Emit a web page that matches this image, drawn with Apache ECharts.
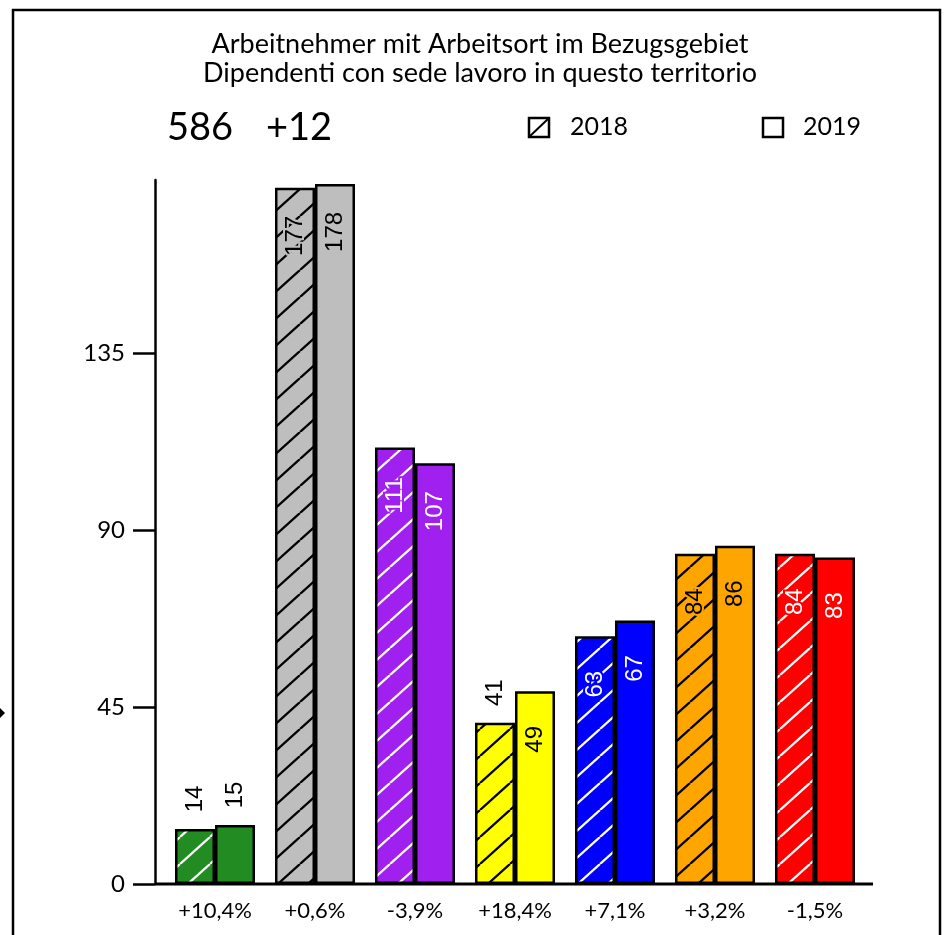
<!DOCTYPE html>
<html>
<head>
<meta charset="utf-8">
<script src="https://cdn.jsdelivr.net/npm/echarts@6/dist/echarts.min.js"></script>
<style>
html,body{margin:0;padding:0;background:#fff;}
#chart{width:945px;height:935px;}
</style>
</head>
<body>
<div id="chart"></div>
<script>
const categories = ['+10,4%', '+0,6%', '-3,9%', '+18,4%', '+7,1%', '+3,2%', '-1,5%'];
const values2018 = [14, 177, 111, 41, 63, 84, 84];
const values2019 = [15, 178, 107, 49, 67, 86, 83];
const barColors = ['#228B22', '#BEBEBE', '#A020F0', '#FFFF00', '#0000FF', '#FFA500', '#FF0000'];
const hatchColors = ['#FFFFFF', '#000000', '#FFFFFF', '#000000', '#FFFFFF', '#000000', '#FFFFFF'];
const labelColors = ['#000000', '#000000', '#FFFFFF', '#000000', '#FFFFFF', '#000000', '#FFFFFF'];
const yTickValues = [0, 45, 90, 135];
const titleLines = ['Arbeitnehmer mit Arbeitsort im Bezugsgebiet', 'Dipendenti con sede lavoro in questo territorio'];
const totalText = '586';
const changeText = '+12';
const seriesNames = ['2018', '2019'];

const FONT = 'Lato';
const LABEL_FONT = 'Liberation Sans';

function makeHatch(bg, fg) {
  const w = 30, h = 27;
  const c = document.createElement('canvas');
  c.width = w; c.height = h;
  const ctx = c.getContext('2d');
  ctx.fillStyle = bg;
  ctx.fillRect(0, 0, w, h);
  ctx.strokeStyle = fg;
  ctx.lineWidth = 2.3;
  for (let k = -1; k <= 1; k++) {
    ctx.beginPath();
    ctx.moveTo(k * w, h);
    ctx.lineTo(k * w + w, 0);
    ctx.stroke();
  }
  return c;
}

function labelFor(v, i) {
  const inside = v >= 45;
  return {
    show: true,
    position: inside ? 'insideTop' : 'top',
    distance: inside ? 48 : 30,
    rotate: 90,
    align: 'center',
    verticalAlign: 'middle',
    fontSize: 24,
    fontFamily: LABEL_FONT,
    color: inside ? labelColors[i] : '#000',
    textBorderColor: inside ? barColors[i] : 'transparent',
    textBorderWidth: inside ? 4 : 0
  };
}

const chart = echarts.init(document.getElementById('chart'), null, {renderer: 'canvas'});

const data2018 = values2018.map((v, i) => ({
  value: v,
  itemStyle: {color: {image: makeHatch(barColors[i], hatchColors[i]), repeat: 'repeat'}},
  label: labelFor(v, i)
}));
const data2019 = values2019.map((v, i) => ({
  value: v,
  itemStyle: {color: barColors[i]},
  label: labelFor(v, i)
}));

const option = {
  animation: false,
  backgroundColor: '#fff',
  grid: {left: 165, right: 80, top: 180, bottom: 51, containLabel: false},
  xAxis: {
    type: 'category',
    data: categories,
    axisLine: {show: false},
    axisTick: {show: false},
    axisLabel: {fontSize: 22, fontFamily: FONT, color: '#000', margin: 16}
  },
  yAxis: {
    type: 'value',
    min: 0,
    max: 179,
    interval: 45,
    offset: 10,
    splitLine: {show: false},
    axisLine: {show: true, lineStyle: {color: '#000', width: 2.5}},
    axisTick: {show: true, length: 22, customValues: yTickValues, lineStyle: {color: '#000', width: 2.5}},
    axisLabel: {customValues: yTickValues, fontSize: 24, fontFamily: FONT, color: '#000', margin: 30}
  },
  series: [
    {
      name: seriesNames[0], type: 'bar', data: data2018, barWidth: 40, barGap: '0%',
      itemStyle: {borderColor: '#000', borderWidth: 2.5}
    },
    {
      name: seriesNames[1], type: 'bar', data: data2019, barWidth: 40, barGap: '0%',
      itemStyle: {borderColor: '#000', borderWidth: 2.5}
    }
  ]
};
chart.setOption(option);

const y0 = chart.convertToPixel({yAxisIndex: 0}, 0);

chart.setOption({
  graphic: [
    {type: 'rect', shape: {x: 13, y: 10, width: 927, height: 960}, style: {fill: 'none', stroke: '#000', lineWidth: 2.5}, silent: true},
    {type: 'polygon', shape: {points: [[-5, 713], [0, 708], [5, 713], [0, 718]]}, style: {fill: '#000'}},
    {type: 'line', shape: {x1: 155, y1: y0, x2: 873, y2: y0}, style: {stroke: '#000', lineWidth: 3}},
    {type: 'text', x: 480, y: 44, style: {text: titleLines[0], font: '27px ' + FONT, fill: '#000', textAlign: 'center', textVerticalAlign: 'middle'}},
    {type: 'text', x: 480, y: 73, style: {text: titleLines[1], font: '27px ' + FONT, fill: '#000', textAlign: 'center', textVerticalAlign: 'middle'}},
    {type: 'text', x: 167, y: 128, style: {text: totalText, font: '38px ' + FONT, fill: '#000', textAlign: 'left', textVerticalAlign: 'middle'}},
    {type: 'text', x: 266, y: 128, style: {text: changeText, font: '38px ' + FONT, fill: '#000', textAlign: 'left', textVerticalAlign: 'middle'}},
    {type: 'rect', shape: {x: 529, y: 118, width: 20, height: 19}, style: {fill: '#fff', stroke: '#000', lineWidth: 2.5}},
    {type: 'line', shape: {x1: 529, y1: 137, x2: 549, y2: 118}, style: {stroke: '#000', lineWidth: 2}},
    {type: 'text', x: 570, y: 127, style: {text: seriesNames[0], font: '25px ' + FONT, fill: '#000', textAlign: 'left', textVerticalAlign: 'middle'}},
    {type: 'rect', shape: {x: 763, y: 118, width: 20, height: 19}, style: {fill: '#fff', stroke: '#000', lineWidth: 2.5}},
    {type: 'text', x: 803, y: 127, style: {text: seriesNames[1], font: '25px ' + FONT, fill: '#000', textAlign: 'left', textVerticalAlign: 'middle'}}
  ]
});
</script>
</body>
</html>
